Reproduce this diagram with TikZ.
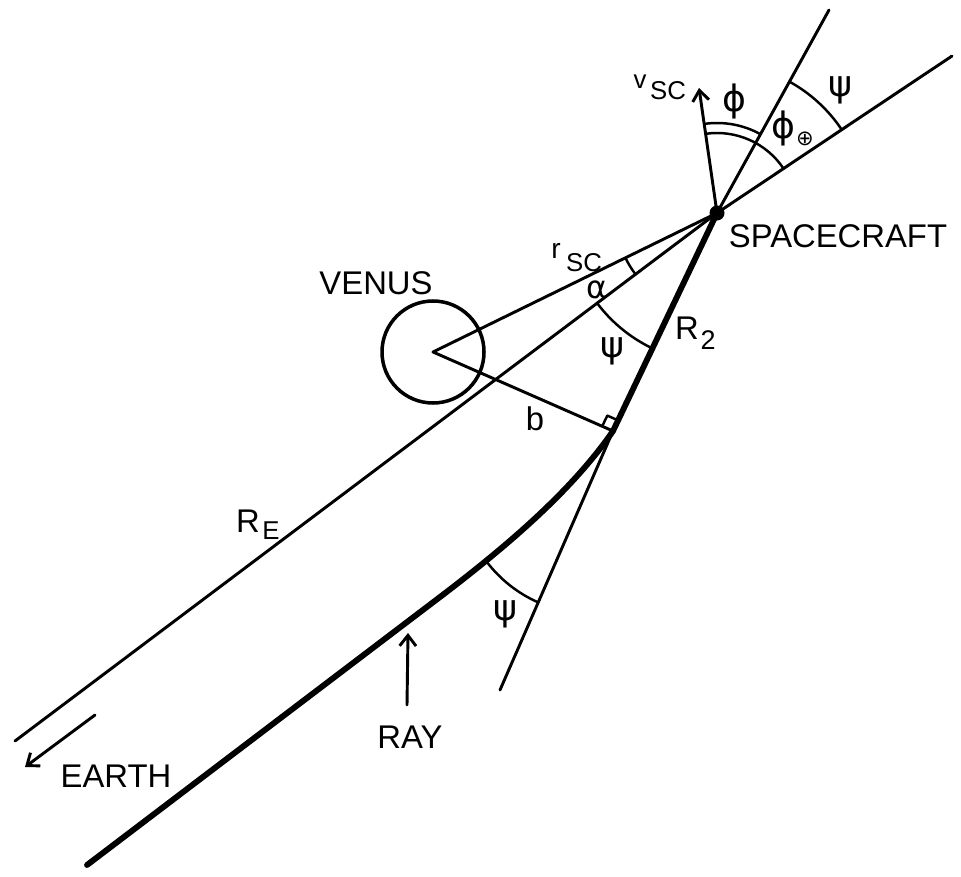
\documentclass[tikz,border=0pt]{standalone}
\usepackage{fontspec}
\setmainfont{Liberation Sans}
\newfontfamily\grk{DejaVu Sans}
\usetikzlibrary{arrows.meta,calc}
\begin{document}
\begin{tikzpicture}[x=0.03cm,y=-0.03cm,
  thinln/.style={line width=2.5pt},
  thickln/.style={line width=5pt},
  arcln/.style={line width=2.1pt},
  lbl/.style={inner sep=0pt,font=\fontsize{28}{30}\selectfont},
  sublbl/.style={inner sep=0pt,font=\fontsize{22}{24}\selectfont},
  greek/.style={inner sep=0pt,font=\grk\fontsize{31}{33}\selectfont},
  barb/.style={-{Straight Barb[length=9pt,width=14pt,line width=2.5pt]}},
  line cap=round, line join=round]
\useasboundingbox (0,0) rectangle (961,877);
% key points
\coordinate (S) at (717,213);
\coordinate (V) at (433,352);
\coordinate (T) at (613,431);
\coordinate (E1) at (15,741);
\coordinate (U1) at (829,10);
\coordinate (U2) at (952,56);
\coordinate (Vs) at (699,88);
\coordinate (A) at (440,597);
\coordinate (Rb) at (87,865);
\coordinate (Lb) at (500,690);
\coordinate (P) at (591,482.5);
\coordinate (ea1) at (95,715);
\coordinate (ea2) at (25,767);
\coordinate (ra1) at (407,705);
\coordinate (ra2) at (408,633);
% Venus
\node[draw,circle,line width=3pt,minimum size=102*0.03cm,inner sep=0pt] (venus) at (V) {};
% thin lines
\draw[thinln] (V) -- (S);
\draw[thinln] (E1) -- (S);
\draw[thinln] (S) -- (U1);
\draw[thinln] (S) -- (U2);
\draw[thinln] (V) -- (T);
\draw[thinln] (Lb) -- (T);
% ray
\draw[thickln] (Rb) -- (A) .. controls (511,543) and (573,489) .. (T) -- (S);
% right angle mark
\coordinate (q1) at ($(T)!0.06!(V)$);
\coordinate (q2) at ($(T)!0.049!(S)$);
\draw[arcln] (q1) -- ($(q1)+(q2)-(T)$) -- (q2);
% velocity arrow
\draw[thinln,barb] (S) -- (Vs);
% spacecraft dot
\fill (S) circle[radius=7.5];
% arcs at spacecraft
\draw[arcln] ($(S)+(-98.2:90)$) arc[start angle=-98.2, end angle=-61.1, radius=90];
\draw[arcln] ($(S)+(-98.2:80)$) arc[start angle=-98.2, end angle=-33.7, radius=80];
\draw[arcln] ($(S)+(-61.1:150)$) arc[start angle=-61.1, end angle=-33.7, radius=150];
\draw[arcln] ($(S)+(143.05:102)$) arc[start angle=143.05, end angle=153.9, radius=102];
\draw[arcln] ($(S)+(116:150)$) arc[start angle=116, end angle=143.05, radius=150];
% arc at lower vertex
\draw[arcln] ($(P)+(113.7:131)$) arc[start angle=113.7, end angle=142.8, radius=131];
% arrows Earth and Ray
\draw[thinln,barb] (ea1) -- (ea2);
\draw[thinln,barb] (ra1) -- (ra2);
% labels
\node[lbl] (lsc) at (838,236) {SPACECRAFT};
\node[lbl] (lven) at (376,283) {VENUS};
\node[lbl] (lray) at (410,737) {RAY};
\node[lbl] (lear) at (116,776) {EARTH};
\node[lbl] (lb) at (535,419) {b};
\node[inner sep=0pt,font=\fontsize{22}{24}\selectfont] (lv) at (640,82) {v};
\node[sublbl] (lvsc) at (668,91) {SC};
\node[inner sep=0pt,font=\fontsize{24}{26}\selectfont] (lr) at (556,251) {r};
\node[sublbl] (lrsc) at (584,263) {SC};
\node[lbl] (lR2) at (687,328) {R};
\node[sublbl,font=\fontsize{23}{24}\selectfont] (l2) at (708,340) {2};
\node[lbl] (lRE) at (248,521) {R};
\node[sublbl] (lE) at (271,531) {E};
\node[greek] (phi) at (734,101) {ϕ};
\node[greek] (phie) at (783,128) {ϕ};
\node[inner sep=0pt,font=\grk\fontsize{18}{20}\selectfont] (oplus) at (805,139) {⊕};
\node[greek] (psitop) at (840,90) {ψ};
\node[greek] (psimid) at (612,351) {ψ};
\node[greek] (psibot) at (505,614) {ψ};
\node[greek,font=\grk\fontsize{27}{30}\selectfont] (alpha) at (597,290) {α};
\end{tikzpicture}
\end{document}
